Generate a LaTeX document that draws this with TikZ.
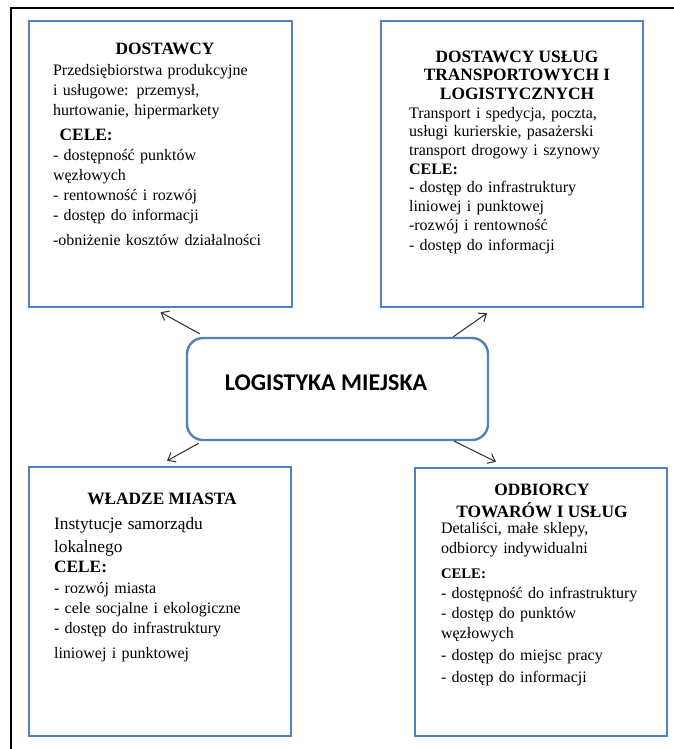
\documentclass[tikz,border=0pt]{standalone}
\usepackage{fontspec}
\setmainfont{Liberation Serif}
\newfontfamily\calibrifont{Carlito}
\usetikzlibrary{arrows.meta}
\setlength{\parindent}{0pt}
\definecolor{officeblue}{RGB}{79,129,189}
\definecolor{arrowgray}{RGB}{55,55,55}
\tikzset{
  actorbox/.style={
    draw=officeblue,
    line width=1.8pt,
    fill=white,
    inner sep=0pt
  },
  hub/.style={actorbox, rounded corners=12pt},
  heading/.style={inner sep=0pt, align=center, font=\fontsize{13}{14}\selectfont\bfseries},
  bodytext/.style={inner sep=0pt, anchor=north west, text width=170pt, align=left,
    font=\fontsize{12}{15}\selectfont},
  hubtext/.style={inner sep=0pt, font=\calibrifont\fontsize{18}{20}\selectfont\bfseries},
  arrow/.style={-{Straight Barb[length=5pt,width=8pt]}, line width=0.8pt, draw=arrowgray},
  frame/.style={line width=2.2pt, draw=black}
}

\begin{document}
\begin{tikzpicture}[x=0.75pt, y=-0.75pt]
        \useasboundingbox (0,0) rectangle (674,749);
        \draw[frame] (11,749) |- (674,8);
        % the four actors and the hub
        \node[actorbox, minimum width=197.25pt, minimum height=214.5pt] (dost) at (160.5,164) {};
        \node[actorbox, minimum width=196.5pt, minimum height=214.5pt] (trans) at (512,164) {};
        \node[actorbox, minimum width=196.5pt, minimum height=201.75pt] (wladze) at (160,601.5) {};
        \node[actorbox, minimum width=189pt, minimum height=201pt] (odb) at (541,602) {};
        \node[hub, minimum width=225.75pt, minimum height=76.5pt] (centrum) at (337.5,389) {};
        \node[hubtext] (centrum-label) at ([xshift=-8.6pt, yshift=4.5pt]centrum.center) {LOGISTYKA MIEJSKA};
        % headings
        \node[heading, anchor=base] (dost-head) at ([xshift=3.4pt, yshift=-26.25pt]dost.north) {DOSTAWCY};
        \node[heading, anchor=north] (trans-head) at ([xshift=3.75pt, yshift=-22.9pt]trans.north)
          {DOSTAWCY USŁUG\\TRANSPORTOWYCH I\\LOGISTYCZNYCH};
        \node[heading, anchor=base] (wladze-head) at ([xshift=1.5pt, yshift=-29.25pt]wladze.north) {WŁADZE MIASTA};
        \node[heading, anchor=north, font=\fontsize{13}{16.5}\selectfont\bfseries] (odb-head)
          at ([xshift=0.75pt, yshift=-12.5pt]odb.north) {ODBIORCY\\TOWARÓW I USŁUG};
        % texts
        \node[bodytext] (dost-body) at ([xshift=18.75pt, yshift=-33pt]dost.north west)
          {Przedsiębiorstwa produkcyjne\\
           i usługowe: przemysł,\\
           hurtowanie, hipermarkety\\[3.75pt]
           {\fontsize{13}{15}\selectfont\bfseries\hspace*{5pt}CELE:}\\
           - dostępność punktów\\
           węzłowych\\
           - rentowność i rozwój\\
           - dostęp do informacji\\[3.75pt]
           -obniżenie kosztów działalności};
        \node[bodytext, font=\fontsize{12}{14}\selectfont] (trans-body) at ([xshift=21.75pt, yshift=-65.25pt]trans.north west)
          {Transport i spedycja, poczta,\\
           usługi kurierskie, pasażerski\\
           transport drogowy i szynowy\\
           {\bfseries CELE:}\\
           - dostęp do infrastruktury\\
           liniowej i punktowej\\
           -rozwój i rentowność\\[1pt]
           - dostęp do informacji};
        \node[bodytext] (wladze-body) at ([xshift=19.5pt, yshift=-38.25pt]wladze.north west)
          {{\fontsize{13}{17.25}\selectfont Instytucje samorządu\\
           lokalnego\\}
           {\fontsize{13}{18}\selectfont\bfseries CELE:}\\[0.75pt]
           - rozwój miasta\\
           - cele socjalne i ekologiczne\\
           - dostęp do infrastruktury\\[3.75pt]
           liniowej i punktowej};
        \node[bodytext] (odb-body) at ([xshift=20.25pt, yshift=-41.25pt]odb.north west)
          {Detaliści, małe sklepy,\\
           odbiorcy indywidualni\\[4pt]
           {\fontsize{11}{15}\selectfont\bfseries CELE:}\\
           - dostępność do infrastruktury\\
           - dostęp do punktów\\
           węzłowych\\[1.5pt]
           - dostęp do miejsc pracy\\[1.5pt]
           - dostęp do informacji};
        % connectors
        \draw[arrow] ([xshift=10.5pt, yshift=2.25pt]centrum.north west) -- ([yshift=-3pt]dost.south);
        \draw[arrow] ([xshift=-27pt]centrum.north east) -- ([xshift=-18.75pt, yshift=-3.75pt]trans.south);
        \draw[arrow] ([xshift=9.75pt, yshift=-1.5pt]centrum.south west) -- ([xshift=5.25pt, yshift=3.75pt]wladze.north);
        \draw[arrow] ([xshift=-26.25pt]centrum.south east) -- ([xshift=-33.75pt, yshift=3.75pt]odb.north);
      \end{tikzpicture}
\end{document}
